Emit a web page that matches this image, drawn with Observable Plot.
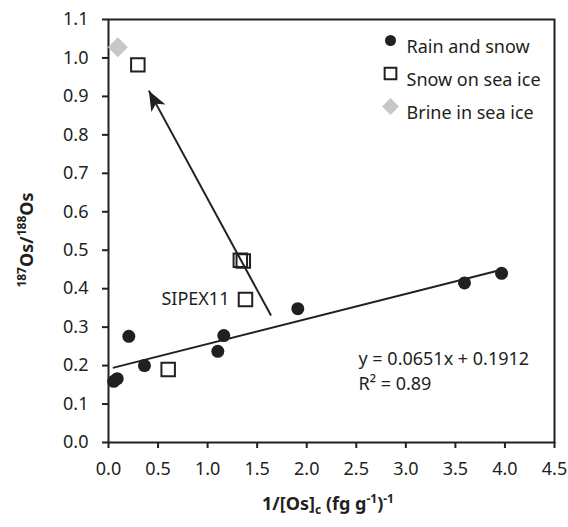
<!DOCTYPE html>
<html>
<head>
<meta charset="utf-8">
<script src="https://cdn.jsdelivr.net/npm/d3@7"></script>
<script src="https://cdn.jsdelivr.net/npm/@observablehq/plot@0.6"></script>
<style>
  html, body { margin: 0; padding: 0; background: #fff; }
  svg { display: block; }
</style>
</head>
<body>
<div id="chart"></div>
<script>
// ---- data ----
const rainX = [0.053, 0.088, 0.205, 0.363, 1.103, 1.163, 1.91, 3.592, 3.966];
const rainY = [0.159, 0.166, 0.276, 0.200, 0.237, 0.278, 0.348, 0.415, 0.440];
const seaSnowX = [0.296, 0.602, 1.33, 1.36, 1.382];
const seaSnowY = [0.982, 0.190, 0.474, 0.472, 0.372];
const brineX = [0.094];
const brineY = [1.028];
const sipexLabel = "SIPEX11";
const sipexIndex = 4;
const fitSlope = 0.0651;
const fitIntercept = 0.1912;
const fitR2 = 0.89;
const arrowFrom = { x: 1.64, y: 0.330 };
const arrowTo = { x: 0.407, y: 0.915 };
const xTicks = [0, 0.5, 1.0, 1.5, 2.0, 2.5, 3.0, 3.5, 4.0, 4.5];
const yTicks = [0, 0.1, 0.2, 0.3, 0.4, 0.5, 0.6, 0.7, 0.8, 0.9, 1.0, 1.1];
const seriesNames = ["Rain and snow", "Snow on sea ice", "Brine in sea ice"];

// ---- tables built from the arrays ----
const rain = rainX.map((x, i) => ({ x, y: rainY[i] }));
const seaSnow = seaSnowX.map((x, i) => ({ x, y: seaSnowY[i] }));
const brine = brineX.map((x, i) => ({ x, y: brineY[i] }));
const fitX = d3.extent(rainX);
const fitLine = fitX.map(x => ({ x, y: fitSlope * x + fitIntercept }));
const arrow = [{ x1: arrowFrom.x, y1: arrowFrom.y, x2: arrowTo.x, y2: arrowTo.y }];

const ink = "#231f20";
const grey = "#c6c7c9";
const W = 568, H = 527;
const base = {
  width: W, height: H,
  marginLeft: 108, marginRight: 14, marginTop: 19, marginBottom: 85,
  x: { domain: [0, 4.5] },
  y: { domain: [0, 1.1] },
  style: { fontFamily: "'Noto Sans', sans-serif", fontSize: "18px", color: ink, background: "#fff" }
};

// probe scales to orient the arrow head in pixel space
const probe = Plot.plot({ ...base, axis: null, marks: [] });
const sx = probe.scale("x"), sy = probe.scale("y");
const pdx = sx.apply(arrowTo.x) - sx.apply(arrowFrom.x);
const pdy = sy.apply(arrowTo.y) - sy.apply(arrowFrom.y);
const plen = Math.hypot(pdx, pdy);
const ux = pdx / plen, uy = pdy / plen;
const nx = -uy, ny = ux;
const headL = 20, headW = 8, notch = 5;
const arrowHead = {
  draw(ctx) {
    ctx.moveTo(0, 0);
    ctx.lineTo(-headL * ux + headW * nx, -headL * uy + headW * ny);
    ctx.lineTo(-(headL - notch) * ux, -(headL - notch) * uy);
    ctx.lineTo(-headL * ux - headW * nx, -headL * uy - headW * ny);
    ctx.closePath();
  }
};

const legendSym = [
  { symbol: "circle", r: 5.5, fill: ink, stroke: "none", strokeWidth: 0 },
  { symbol: "square", r: 6.6, fill: "#fff", stroke: ink, strokeWidth: 2 },
  { symbol: "diamond2", r: 7.6, fill: grey, stroke: "none", strokeWidth: 0 }
];
const legendMarks = seriesNames.flatMap((name, i) => [
  Plot.dot([name], { frameAnchor: "top-left", dx: 282, dy: 21 + i * 33, ...legendSym[i] }),
  Plot.text([name], { text: d => d, frameAnchor: "top-left", dx: 298, dy: 21 + i * 33, textAnchor: "start", fill: ink, fontSize: 18 })
]);

const chart = Plot.plot({
  ...base,
  marks: [
    Plot.axisX({ ticks: xTicks, tickFormat: d3.format(".1f"), tickSize: 6, tickPadding: 14, strokeWidth: 2, label: null, fill: ink, stroke: ink }),
    Plot.axisY({ ticks: yTicks, tickFormat: d3.format(".1f"), tickSize: 6, tickPadding: 14, strokeWidth: 2, label: null, fill: ink, stroke: ink }),
    Plot.frame({ stroke: ink, strokeWidth: 2 }),
    Plot.line(fitLine, { x: "x", y: "y", stroke: ink, strokeWidth: 2 }),
    Plot.link(arrow, { x1: "x1", y1: "y1", x2: "x2", y2: "y2", stroke: ink, strokeWidth: 2 }),
    Plot.dot(arrow, { x: "x2", y: "y2", symbol: arrowHead, fill: ink, stroke: "none" }),
    Plot.dot(brine, { x: "x", y: "y", symbol: "diamond2", r: 9, fill: grey, stroke: "none" }),
    Plot.dot(seaSnow, { x: "x", y: "y", symbol: "square", r: 7.6, fill: "#fff", fillOpacity: 0, stroke: ink, strokeWidth: 2 }),
    Plot.dot(rain, { x: "x", y: "y", r: 6.5, fill: ink, stroke: "none" }),
    Plot.text([seaSnow[sipexIndex]], { x: "x", y: "y", text: () => sipexLabel, textAnchor: "end", dx: -16, fill: ink, fontSize: 18 }),
    Plot.text([`y = ${fitSlope}x + ${fitIntercept}`], { text: d => d, frameAnchor: "top-left", dx: 250, dy: 333, textAnchor: "start", fill: ink, fontSize: 18 }),
    Plot.text([`R\u00b2 = ${fitR2}`], { text: d => d, frameAnchor: "top-left", dx: 250, dy: 358, textAnchor: "start", fill: ink, fontSize: 18 }),
    ...legendMarks
  ]
});

document.getElementById("chart").appendChild(chart);

// axis titles with superscripts / subscripts
const svg = d3.select(chart);
const yl = svg.append("text")
  .attr("transform", "translate(33,240) rotate(-90)")
  .attr("text-anchor", "middle")
  .attr("fill", ink)
  .attr("font-family", "'Noto Sans', sans-serif")
  .attr("font-weight", "bold")
  .attr("font-size", 18);
yl.append("tspan").attr("font-size", 12).attr("dy", -7).text("187");
yl.append("tspan").attr("dy", 7).text("Os/");
yl.append("tspan").attr("font-size", 12).attr("dy", -7).text("188");
yl.append("tspan").attr("dy", 7).text("Os");

const xl = svg.append("text")
  .attr("x", 328).attr("y", 510)
  .attr("text-anchor", "middle")
  .attr("fill", ink)
  .attr("font-family", "'Noto Sans', sans-serif")
  .attr("font-weight", "bold")
  .attr("font-size", 18);
xl.append("tspan").text("1/[Os]");
xl.append("tspan").attr("font-size", 12).attr("dy", 4).text("c");
xl.append("tspan").attr("dy", -4).text(" (fg g");
xl.append("tspan").attr("font-size", 12).attr("dy", -7).text("-1");
xl.append("tspan").attr("dy", 7).text(")");
xl.append("tspan").attr("font-size", 12).attr("dy", -7).text("-1");
</script>
</body>
</html>
